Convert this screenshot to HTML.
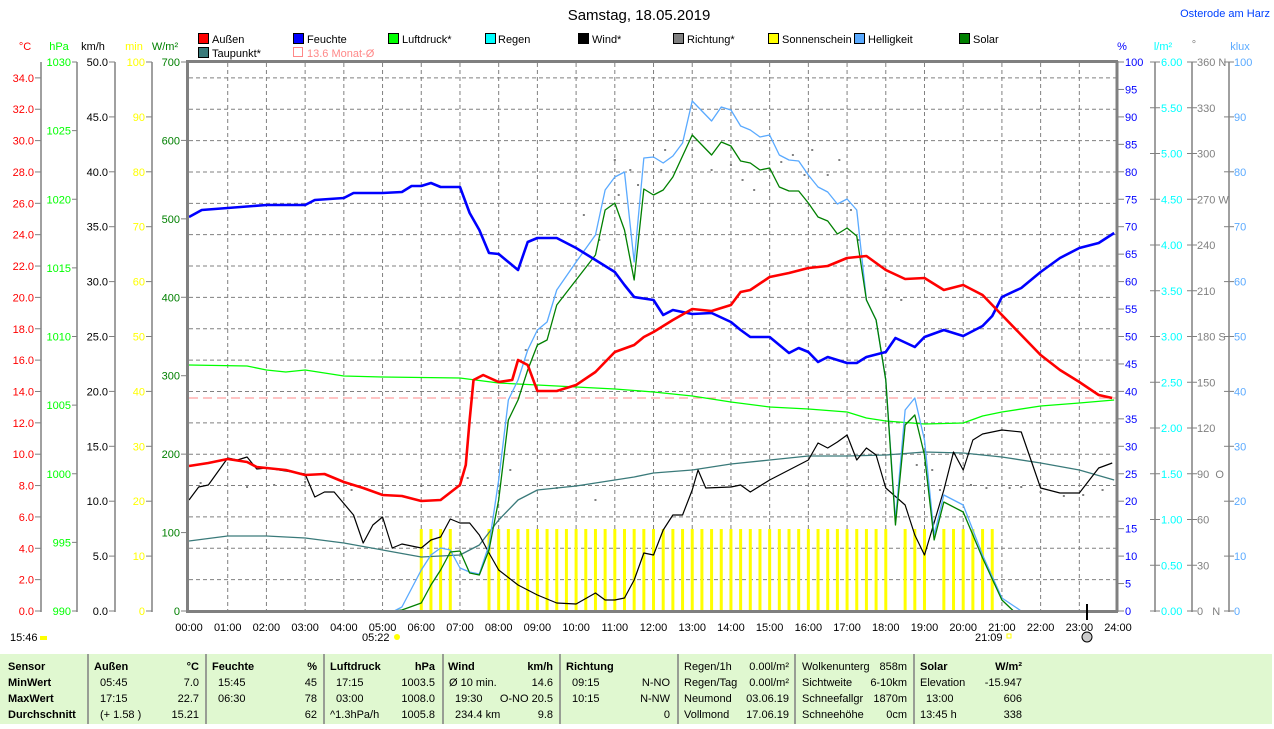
<!DOCTYPE html>
<html><head><meta charset="utf-8"><style>
body{margin:0;width:1274px;height:724px;background:#fff;overflow:hidden;font-family:"Liberation Sans",sans-serif;}
svg text{font-family:"Liberation Sans",sans-serif;font-size:11px;}
</style></head><body>
<svg width="1274" height="724" viewBox="0 0 1274 724" xmlns="http://www.w3.org/2000/svg">
<text x="639" y="20" text-anchor="middle" fill="#000" style="font-size:15px">Samstag, 18.05.2019</text>
<text x="1270" y="17" text-anchor="end" fill="#0040ff" style="font-size:11px">Osterode am Harz</text>
<!-- legend -->
<g style="font-size:11.5px">
<rect x="198.5" y="33.5" width="10" height="10" fill="#f00" stroke="#000"/><text x="212" y="43">Außen</text>
<rect x="198.5" y="47.5" width="10" height="10" fill="#3a7a7a" stroke="#000"/><text x="212" y="57">Taupunkt*</text>
<rect x="293.5" y="33.5" width="10" height="10" fill="#00f" stroke="#000"/><text x="307" y="43">Feuchte</text>
<rect x="293.5" y="47.5" width="9" height="9" fill="none" stroke="#f88"/><text x="307" y="57" fill="#f88">13.6 Monat-Ø</text>
<rect x="388.5" y="33.5" width="10" height="10" fill="#0f0" stroke="#000"/><text x="402" y="43">Luftdruck*</text>
<rect x="485.5" y="33.5" width="10" height="10" fill="#0ff" stroke="#000"/><text x="498" y="43">Regen</text>
<rect x="578.5" y="33.5" width="10" height="10" fill="#000" stroke="#000"/><text x="592" y="43">Wind*</text>
<rect x="673.5" y="33.5" width="10" height="10" fill="#808080" stroke="#000"/><text x="687" y="43">Richtung*</text>
<rect x="768.5" y="33.5" width="10" height="10" fill="#ff0" stroke="#000"/><text x="782" y="43">Sonnenschein</text>
<rect x="854.5" y="33.5" width="10" height="10" fill="#5aaaff" stroke="#000"/><text x="868" y="43">Helligkeit</text>
<rect x="959.5" y="33.5" width="10" height="10" fill="#008000" stroke="#000"/><text x="973" y="43">Solar</text>
</g>
<!-- axis units -->
<text x="25" y="50" text-anchor="middle" fill="#f00">°C</text>
<text x="59" y="50" text-anchor="middle" fill="#0f0">hPa</text>
<text x="93" y="50" text-anchor="middle">km/h</text>
<text x="134" y="50" text-anchor="middle" fill="#ff0">min</text>
<text x="165" y="50" text-anchor="middle" fill="#008000">W/m²</text>
<text x="1122" y="50" text-anchor="middle" fill="#00f">%</text>
<text x="1163" y="50" text-anchor="middle" fill="#0ff">l/m²</text>
<text x="1194" y="48" text-anchor="middle" fill="#808080">°</text>
<text x="1240" y="50" text-anchor="middle" fill="#5aaaff">klux</text>
<g stroke="#808080" stroke-width="1.5">
<line x1="41" y1="62" x2="41" y2="612"/><line x1="77" y1="62" x2="77" y2="612"/>
<line x1="115" y1="62" x2="115" y2="612"/><line x1="152" y1="62" x2="152" y2="612"/>
<line x1="1155" y1="62" x2="1155" y2="612"/><line x1="1192" y1="62" x2="1192" y2="612"/><line x1="1229" y1="62" x2="1229" y2="612"/>
</g>
<g id="ticks" stroke="#808080"></g>
<g id="labels"></g>
<g stroke="#808080" stroke-dasharray="4,3" stroke-width="1" id="grid"></g>
<g id="bars" fill="#ff0"></g>
<g fill="#808080" id="dots"></g>
<line x1="189" y1="398" x2="1118" y2="398" stroke="#f88" stroke-dasharray="9,5" stroke-width="1"/>
<g transform="translate(189,0) scale(38.71,1)" fill="none" stroke-linejoin="round">
<polyline vector-effect="non-scaling-stroke" stroke="#0f0" stroke-width="1.3" points="0,365 1.5,366 2,370 2.5,372 3,370 4,376 5,377 7,378 8,383 9,385 10,387 11,389 12,392 13,396 14,402 15,407 16,409 17,412 17.5,418 18,421 19,424 20,423 20.5,416 21,412 22,406 23,403 23.9,400"/>
<polyline vector-effect="non-scaling-stroke" stroke="#3a7a7a" stroke-width="1.3" points="0,541 1,536 2,536 3,538 4,543 5,550 6,557 7,555 7.5,545 8,520 8.5,500 9,490 10,486 11,480 11.5,477 12,473 13,470 14,464 15,460 16,456 17,456 18,455 19,452 20,453 21,457 22,463 23,470 23.9,480"/>
<polyline vector-effect="non-scaling-stroke" stroke="#000" stroke-width="1.2" points="0,500 0.25,487 0.5,485 1,458 1.25,460 1.5,457 1.75,469 2,468 3,474 3.25,497 3.5,492 3.75,492 4.25,515 4.5,543 4.75,525 5,517 5.25,548 5.5,544 6,548 6.25,540 6.5,537 6.75,519 7,523 7.25,523 7.5,535 7.75,553 8,570 8.5,585 9,595 9.5,603 10,604 10.5,593 10.75,600 11,600 11.25,598 11.5,580 11.75,553 12,555 12.25,530 12.5,515 12.75,515 13,490 13.15,470 13.35,488 14,487 14.25,485 14.5,492 15,480 15.5,470 16,460 16.25,443 16.5,448 16.75,442 17,435 17.25,460 17.5,448 17.75,455 18,488 18.5,505 18.75,535 19,555 19.5,490 19.75,452 20,470 20.25,440 20.5,434 21,430 21.5,432 22,488 22.5,493 23,493 23.5,468 23.85,463"/>
<polyline vector-effect="non-scaling-stroke" stroke="#5aaaff" stroke-width="1.3" points="5.3,611 5.5,607 6,570 6.25,555 6.5,548 6.75,550 7,568 7.25,572 7.5,574 7.75,545 8,480 8.25,400 8.5,380 8.75,350 9,330 9.25,322 9.5,290 10,262 10.5,235 10.75,190 11,177 11.25,172 11.5,262 11.75,158 12,157 12.25,163 12.5,156 12.75,143 13,101 13.5,121 13.75,107 14,110 14.25,126 14.5,130 14.75,137 15,135 15.25,155 15.5,160 15.75,161 16,175 16.25,187 16.5,192 16.75,204 17,199 17.25,210 17.5,300 17.75,320 18,380 18.25,520 18.5,410 18.75,398 19,440 19.25,535 19.5,495 20,505 20.5,555 21,598 21.5,611"/>
<polyline vector-effect="non-scaling-stroke" stroke="#008000" stroke-width="1.3" points="5.3,611 5.5,610 6,603 6.25,585 6.5,570 6.75,552 7,551 7.25,573 7.5,575 7.75,550 8,500 8.25,420 8.5,400 8.75,370 9,345 9.25,340 9.5,305 10,280 10.5,255 10.75,210 11,203 11.25,230 11.5,280 11.75,189 12,195 12.25,190 12.5,177 13,135 13.5,155 13.75,142 14,146 14.25,161 14.5,163 14.75,170 15,168 15.25,187 15.5,191 15.75,191 16,203 16.25,217 16.5,221 16.75,234 17,228 17.25,236 17.5,300 17.75,320 18,380 18.25,525 18.5,425 18.75,415 19,455 19.25,540 19.5,502 20,512 20.5,558 21,600 21.3,611"/>
<polyline vector-effect="non-scaling-stroke" stroke="#00f" stroke-width="2.6" points="0,217 0.33,210 2,205 3,205 3.25,200 4,198 4.25,193 5,193 5.5,192 5.75,186 6,186 6.25,183 6.5,187 7,187 7.25,213 7.5,230 7.75,253 8,254 8.5,270 8.75,242 9,238 9.5,238 10,248 10.5,260 11,272 11.25,285 11.5,297 12,300 12.25,315 12.5,310 13,314 13.5,313 14,322 14.25,330 14.5,337 15,337 15.5,353 15.75,348 16,352 16.25,362 16.5,357 17,363 17.25,363 17.5,357 18,352 18.25,338 18.75,347 19,337 19.5,330 20,336 20.5,326 20.75,316 21,297 21.5,288 22,272 22.5,258 23,248 23.5,243 23.9,233"/>
<polyline vector-effect="non-scaling-stroke" stroke="#f00" stroke-width="2.6" points="0,466 0.5,463 1,459 1.5,462 1.75,467 2.5,470 3,475 3.5,474 4,482 4.5,488 5,495 5.5,496 6,501 6.5,500 7,485 7.15,465 7.25,420 7.35,380 7.6,375 8,382 8.35,380 8.5,360 8.75,365 9,391 9.5,391 10,385 10.5,372 11,352 11.5,345 11.75,337 12,332 12.5,320 13,309 13.5,311 14,305 14.25,292 14.5,290 15,277 15.5,273 16,268 16.5,266 17,258 17.5,256 18,270 18.5,279 19,278 19.5,290 20,285 20.5,295 21,315 21.5,335 22,355 22.5,370 23,382 23.5,395 23.85,398"/>
</g>
<g stroke="#808080" stroke-width="3" fill="none">
<line x1="187.5" y1="61" x2="187.5" y2="612"/><line x1="186" y1="611.5" x2="1118" y2="611.5"/>
<line x1="186" y1="61.5" x2="1118" y2="61.5"/><line x1="1117" y1="61" x2="1117" y2="612"/>
</g>
<line x1="1087" y1="604" x2="1087" y2="620" stroke="#000" stroke-width="2"/>
<g id="xlab"></g>
<text x="10" y="641">15:46</text><rect x="40" y="636" width="7" height="4" fill="#ff0"/>
<text x="362" y="641">05:22</text><circle cx="397" cy="637" r="3" fill="#ff0"/>
<text x="975" y="641">21:09</text><rect x="1007" y="634" width="4" height="4" fill="none" stroke="#ff0"/>
<circle cx="1087" cy="637" r="5" fill="#ccc" stroke="#000"/>
<rect x="0" y="654" width="1272" height="70" fill="#e0f8d0"/>
<g stroke="#808080" stroke-width="1.5">
<line x1="88" y1="654" x2="88" y2="724"/><line x1="206" y1="654" x2="206" y2="724"/><line x1="324" y1="654" x2="324" y2="724"/>
<line x1="443" y1="654" x2="443" y2="724"/><line x1="560" y1="654" x2="560" y2="724"/><line x1="678" y1="654" x2="678" y2="724"/>
<line x1="795" y1="654" x2="795" y2="724"/><line x1="914" y1="654" x2="914" y2="724"/>
</g>
<g style="font-size:11.5px">
<g style="font-weight:bold">
<text x="8" y="670">Sensor</text><text x="8" y="686">MinWert</text><text x="8" y="702">MaxWert</text><text x="8" y="718">Durchschnitt</text>
<text x="94" y="670">Außen</text><text x="199" y="670" text-anchor="end">°C</text>
<text x="212" y="670">Feuchte</text><text x="317" y="670" text-anchor="end">%</text>
<text x="330" y="670">Luftdruck</text><text x="435" y="670" text-anchor="end">hPa</text>
<text x="448" y="670">Wind</text><text x="553" y="670" text-anchor="end">km/h</text>
<text x="566" y="670">Richtung</text>
<text x="920" y="670">Solar</text><text x="1022" y="670" text-anchor="end">W/m²</text>
</g>
<text x="100" y="686">05:45</text><text x="199" y="686" text-anchor="end">7.0</text>
<text x="100" y="702">17:15</text><text x="199" y="702" text-anchor="end">22.7</text>
<text x="100" y="718">(+ 1.58 )</text><text x="199" y="718" text-anchor="end">15.21</text>
<text x="218" y="686">15:45</text><text x="317" y="686" text-anchor="end">45</text>
<text x="218" y="702">06:30</text><text x="317" y="702" text-anchor="end">78</text>
<text x="317" y="718" text-anchor="end">62</text>
<text x="336" y="686">17:15</text><text x="435" y="686" text-anchor="end">1003.5</text>
<text x="336" y="702">03:00</text><text x="435" y="702" text-anchor="end">1008.0</text>
<text x="330" y="718">^1.3hPa/h</text><text x="435" y="718" text-anchor="end">1005.8</text>
<text x="449" y="686">Ø 10 min.</text><text x="553" y="686" text-anchor="end">14.6</text>
<text x="455" y="702">19:30</text><text x="553" y="702" text-anchor="end">O-NO 20.5</text>
<text x="455" y="718">234.4 km</text><text x="553" y="718" text-anchor="end">9.8</text>
<text x="572" y="686">09:15</text><text x="670" y="686" text-anchor="end">N-NO</text>
<text x="572" y="702">10:15</text><text x="670" y="702" text-anchor="end">N-NW</text>
<text x="670" y="718" text-anchor="end">0</text>
<text x="684" y="670">Regen/1h</text><text x="789" y="670" text-anchor="end">0.00l/m²</text>
<text x="684" y="686">Regen/Tag</text><text x="789" y="686" text-anchor="end">0.00l/m²</text>
<text x="684" y="702">Neumond</text><text x="789" y="702" text-anchor="end">03.06.19</text>
<text x="684" y="718">Vollmond</text><text x="789" y="718" text-anchor="end">17.06.19</text>
<text x="802" y="670">Wolkenunterg</text><text x="907" y="670" text-anchor="end">858m</text>
<text x="802" y="686">Sichtweite</text><text x="907" y="686" text-anchor="end">6-10km</text>
<text x="802" y="702">Schneefallgr</text><text x="907" y="702" text-anchor="end">1870m</text>
<text x="802" y="718">Schneehöhe</text><text x="907" y="718" text-anchor="end">0cm</text>
<text x="920" y="686">Elevation</text><text x="1022" y="686" text-anchor="end">-15.947</text>
<text x="926" y="702">13:00</text><text x="1022" y="702" text-anchor="end">606</text>
<text x="920" y="718">13:45 h</text><text x="1022" y="718" text-anchor="end">338</text>
</g>
</svg>
<script>
(function(){
var NS="http://www.w3.org/2000/svg";
function el(p,t,a,txt){var e=document.createElementNS(NS,t);for(var k in a)e.setAttribute(k,a[k]);if(txt!=null)e.textContent=txt;document.getElementById(p).appendChild(e);return e;}
var X=function(h){return 189+h*38.71;};
for(var h=1;h<24;h++)el("grid","line",{x1:X(h),y1:63,x2:X(h),y2:610});
for(var t=2;t<=34;t+=2){var y=611-t*15.68;el("grid","line",{x1:189,y1:y,x2:1116,y2:y});}
var q=[];for(var m=6;m<=6.75;m+=0.25)q.push(m);
for(var m=7.75;m<=18.001;m+=0.25)q.push(m);
[18.5,18.75,19].forEach(function(v){q.push(v)});
for(var m=19.5;m<=20.751;m+=0.25)q.push(m);
q.forEach(function(v){el("bars","rect",{x:X(v)-1.5,y:529,width:3,height:82});});
var d=[[6,486],[8.3,470],[9.5,488],[7.2,478],[10.5,500],[8.7,350],[10.2,215],[10.6,240],[11.0,160],[11.4,170],[11.1,195],[11.6,185],[12.3,150],[12.2,170],[13,150],[13.5,170],[14,165],[14.3,180],[14.6,190],[15,170],[15.3,162],[15.6,155],[15.9,175],[16.1,150],[16.5,175],[16.8,160],[17.1,210],[17.3,240],[18,290],[18.4,300],[18.8,465],[19.2,470],[19.4,490],[20.2,485],[20.6,488],[21.2,488],[21.5,487],[22,492],[22.6,496],[23.1,495],[23.6,490],[3,482],[4.2,490],[5,488],[1.5,487],[2.2,485],[0.3,483]];
d.forEach(function(p){el("dots","rect",{x:X(p[0])-1,y:p[1]-1,width:2,height:2});});
for(var t=0;t<=34;t+=2){var y=611-t*15.68;el("ticks","line",{x1:35,y1:y,x2:41,y2:y});el("labels","text",{x:34,y:y+4,"text-anchor":"end",fill:"#f00"},t.toFixed(1));}
for(var p=990;p<=1030;p+=5){var y=611-(p-990)*13.725;el("ticks","line",{x1:72,y1:y,x2:77,y2:y});el("labels","text",{x:71,y:y+4,"text-anchor":"end",fill:"#0f0"},p);}
for(var k=0;k<=10;k++){var y=611-k*54.9;
el("ticks","line",{x1:109,y1:y,x2:115,y2:y});el("labels","text",{x:108,y:y+4,"text-anchor":"end"},(k*5).toFixed(1));
el("ticks","line",{x1:146,y1:y,x2:152,y2:y});el("labels","text",{x:145,y:y+4,"text-anchor":"end",fill:"#ff0"},k*10);}
for(var k=0;k<=7;k++){var y=611-k*78.43;el("ticks","line",{x1:181,y1:y,x2:187,y2:y});el("labels","text",{x:180,y:y+4,"text-anchor":"end",fill:"#008000"},k*100);}
for(var k=0;k<=20;k++){var y=611-k*27.45;el("ticks","line",{x1:1118,y1:y,x2:1124,y2:y});el("labels","text",{x:1125,y:y+4,fill:"#00f"},k*5);}
var dir={0:"0   N",90:"90  O",180:"180 S",270:"270 W",360:"360 N"};
for(var k=0;k<=12;k++){var y=611-k*45.75;
el("ticks","line",{x1:1150,y1:y,x2:1160,y2:y});el("labels","text",{x:1161,y:y+4,fill:"#0ff"},(k*0.5).toFixed(2));
el("ticks","line",{x1:1187,y1:y,x2:1197,y2:y});var a=k*30;el("labels","text",{x:1197,y:y+4,fill:"#808080",style:"white-space:pre"},dir[a]||String(a));}
for(var k=0;k<=10;k++){var y=611-k*54.9;el("ticks","line",{x1:1224,y1:y,x2:1234,y2:y});el("labels","text",{x:1234,y:y+4,fill:"#5aaaff"},k*10);}
for(var h=0;h<=24;h++){el("xlab","text",{x:X(h),y:631,"text-anchor":"middle"},(h<10?"0":"")+h+":00");}
})();
</script>
</body></html>
